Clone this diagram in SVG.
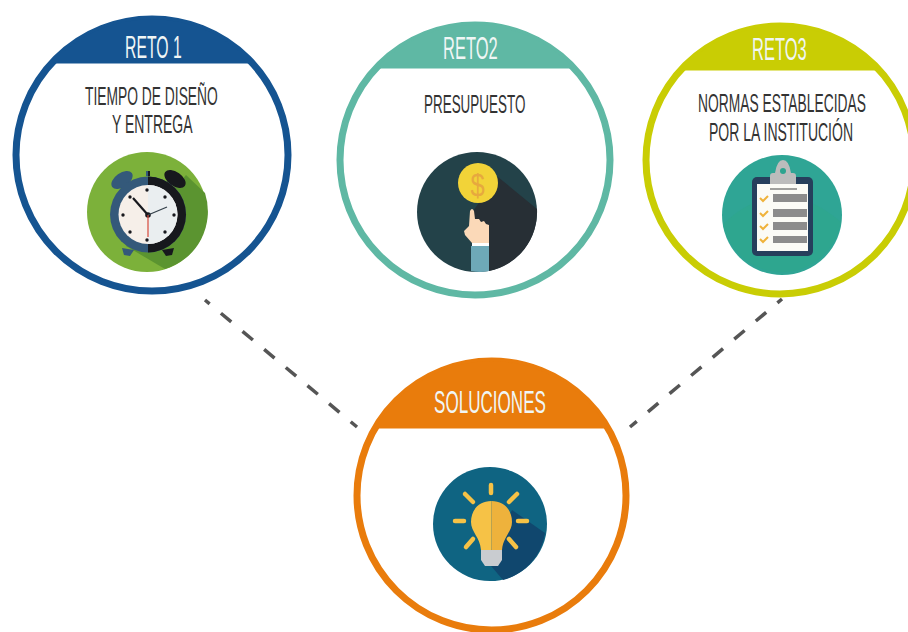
<svg xmlns="http://www.w3.org/2000/svg" width="908" height="632" viewBox="0 0 908 632">
<style>
.ring{fill:#fff;stroke-width:7}
text{font-family:"Liberation Sans",Arial,sans-serif;text-anchor:start}
.h{fill:#f0f6f5;font-size:31px}
.b{fill:#333;font-size:25px}
.dash{fill:none;stroke:#555;stroke-width:3.500;stroke-dasharray:13.500 14.700;stroke-dashoffset:7.500}
</style>
<rect width="908" height="632" fill="#fff"/>
<g id="reto1">
<circle class="ring" cx="152" cy="155" r="136" stroke="#155491"/>
<path d="M52 63A136 136 0 0 1 252 63Z" fill="#155491" stroke="#155491"/>
<text class="h" transform="translate(125 58) scale(.509 1)">RETO 1</text>
<text class="b" transform="translate(85 105) scale(.553 1)">TIEMPO DE DISEÑO</text>
<text class="b" transform="translate(112 133) scale(.559 1)">Y ENTREGA</text>
<circle cx="147" cy="212" r="60" fill="#7cb13a"/>
<path d="M186 175L205 193A60 60 0 0 1 165 269L126 246Z" fill="#5b9430"/>
<ellipse cx="122" cy="180" rx="12" ry="7" transform="rotate(-35 122 180)" fill="#34597a"/>
<ellipse cx="175" cy="179" rx="12" ry="7" transform="rotate(35 175 179)" fill="#17181d"/>
<path d="M122 248L134 250L130 256L124 255Z" fill="#34597a"/>
<path d="M162 250L174 248L172 255L166 256Z" fill="#17181d"/>
<path d="M148 171V176H146V171Z" fill="#34597a"/>
<path d="M148 171V176H150V171Z" fill="#17181d"/>
<circle cx="148" cy="214.500" r="38" fill="#34597a"/>
<path d="M148 176.500A38 38 0 0 1 148 252.500Z" fill="#17181d"/>
<circle cx="148" cy="214.500" r="29.500" fill="#f6efe9"/>
<path d="M148 185A29.500 29.500 0 0 1 148 244Z" fill="#eaeef0"/>
<g fill="#17181d">
<circle cx="147" cy="190" r="1.700"/><circle cx="147" cy="240" r="1.700"/><circle cx="123" cy="215" r="1.700"/><circle cx="174" cy="215" r="1.700"/>
<circle cx="130" cy="197" r="1.700"/><circle cx="165" cy="197" r="1.700"/><circle cx="130" cy="232" r="1.700"/><circle cx="165" cy="232" r="1.700"/>
<circle cx="148" cy="215" r="2.800"/>
</g>
<path d="M148 215L133 198" stroke="#17181d" stroke-width="2.200" fill="none"/>
<path d="M148 215L167 207" stroke="#34404a" stroke-width="1.200" fill="none"/>
<path d="M148 215V237" stroke="#d8493a" stroke-width="1.200" fill="none"/>
</g>
<g id="reto2">
<circle class="ring" cx="475" cy="160" r="135" stroke="#5fb8a4"/>
<path d="M376.200 68A135 135 0 0 1 573.800 68Z" fill="#5fb8a4" stroke="#5fb8a4"/>
<text class="h" transform="translate(443 59) scale(.532 1)">RETO2</text>
<text class="b" transform="translate(424 113) scale(.538 1)">PRESUPUESTO</text>
<circle cx="477" cy="212" r="60" fill="#234249"/>
<path d="M498 177L537 209A60 60 0 0 1 489 271L478 270L480 226L470 215Z" fill="#272f35"/>
<circle cx="478" cy="183" r="20" fill="#f2d338"/>
<text transform="translate(470.500 196) scale(.8 1)" style="font-size:32px;fill:#e7a93e">$</text>
<path d="M470 211Q472 207 474 211L475 219L479 219L481 222L484 221L486 224L489 225V243H472L465 235L464 231L469 226Z" fill="#fbd9b8"/>
<path d="M472 243H489V246H472Z" fill="#fff"/>
<path d="M471 246H489V271Q480 273 471 271Z" fill="#6ea9b8"/>
</g>
<g id="reto3">
<circle class="ring" cx="780" cy="160" r="134" stroke="#c9cd04"/>
<path d="M680.700 70A134 134 0 0 1 879.300 70Z" fill="#c9cd04" stroke="#c9cd04"/>
<text class="h" transform="translate(752 60) scale(.532 1)">RETO3</text>
<text class="b" transform="translate(698 112) scale(.553 1)">NORMAS ESTABLECIDAS</text>
<text class="b" transform="translate(709 141) scale(.561 1)">POR LA INSTITUCIÓN</text>
<circle cx="782" cy="215" r="60" fill="#2fa595"/>
<path d="M723 224Q780 170 841 222A60 60 0 0 1 723 224Z" fill="#2ea68f"/>
<rect x="752" y="177" width="61" height="79" rx="5" fill="#263f5c"/>
<rect x="757" y="184" width="51" height="67" fill="#fbfbf6"/>
<path d="M770 184V176Q770 173 773 173H775Q777 160 783 160Q789 160 791 173H793Q796 173 796 176V184Z" fill="#bcbcbc"/>
<circle cx="783" cy="171" r="3" fill="#2da48f"/>
<path d="M770 189H797" stroke="#444" stroke-width="1"/>
<g fill="#8c8c8c">
<rect x="773" y="194" width="34" height="8"/>
<rect x="773" y="209" width="34" height="8"/>
<rect x="773" y="222" width="34" height="8"/>
<rect x="773" y="236" width="34" height="7"/>
</g>
<g fill="none" stroke="#efb23b" stroke-width="2">
<path d="M760 198L763 201L768 196"/>
<path d="M760 213L763 216L768 211"/>
<path d="M760 226L763 229L768 224"/>
<path d="M760 239L763 242L768 237"/>
</g>
</g>
<g id="soluciones">
<circle class="ring" cx="491.500" cy="495.500" r="134.500" stroke="#e97c0c"/>
<path d="M375.300 428A134.500 134.500 0 0 1 607.700 428Z" fill="#e97c0c" stroke="#e97c0c"/>
<text class="h" transform="translate(434 413) scale(.551 1)">SOLUCIONES</text>
<circle cx="490" cy="524" r="57" fill="#0f6482"/>
<path d="M512 510L545 533A57 57 0 0 1 503 580L486 560Z" fill="#10476e"/>
<path d="M491.500 501C478 501 471 511 471 522C471 532 480 537 481 550H491.500Z" fill="#f6c246"/>
<path d="M491.500 501C505 501 512 511 512 522C512 532 503 537 502 550H491.500Z" fill="#eeb23c"/>
<path d="M481 550H502V560L498 566H485L481 560Z" fill="#c9ccd0"/>
<g stroke="#f6c246" stroke-width="4.500" stroke-linecap="round" fill="none">
<path d="M491 485V493"/><path d="M465 494L473 502"/><path d="M517 494L509 502"/>
<path d="M455 521H464"/><path d="M518 521H527"/><path d="M466 547L473 539"/><path d="M516 547L509 539"/>
</g>
</g>
<g id="connectors">
<path class="dash" d="M205 300L357 427"/>
<path class="dash" d="M782 299L630 427"/>
</g>
</svg>
